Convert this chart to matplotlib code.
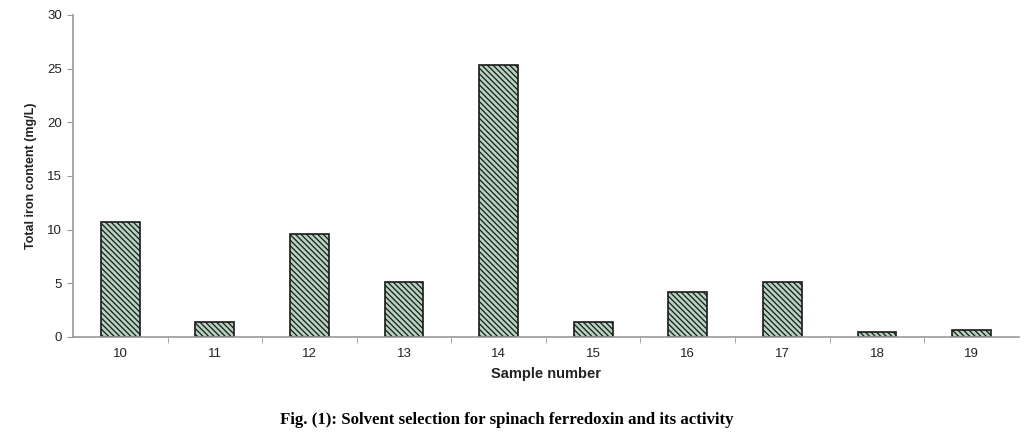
import matplotlib
matplotlib.use("Agg")
import matplotlib.pyplot as plt

samples = ["10", "11", "12", "13", "14", "15", "16", "17", "18", "19"]
iron = [10.7, 1.4, 9.6, 5.1, 25.3, 1.4, 4.2, 5.1, 0.45, 0.65]

plt.rcParams['font.family'] = ['Liberation Sans', 'DejaVu Sans']
plt.rcParams['hatch.linewidth'] = 0.9
plt.rcParams['hatch.color'] = '#2f4a3a'

fig = plt.figure(figsize=(10.27, 4.37), dpi=100)
ax = fig.add_axes([0.071, 0.229, 0.921, 0.737])

x = range(len(samples))
ax.bar(x, iron, width=0.41, color='#b5d3bf', edgecolor='#1a1a1a',
       linewidth=1.2, hatch='\\\\\\\\\\\\')

ax.set_xlim(-0.5, len(samples) - 0.5)
ax.set_ylim(0, 30)
ax.set_yticks([0, 5, 10, 15, 20, 25, 30])
ax.set_xticks(list(x))
ax.set_xticklabels(samples)
# boundary ticks between categories
ax.set_xticks([i + 0.5 for i in range(len(samples) - 1)], minor=True)
ax.tick_params(axis='x', which='major', length=0, pad=8)
ax.tick_params(axis='x', which='minor', length=4, color='#999999')
ax.tick_params(axis='y', length=4, color='#999999', pad=4)
for lab in ax.get_xticklabels() + ax.get_yticklabels():
    lab.set_fontsize(9.5)
    lab.set_color('#222222')

for s in ['top', 'right']:
    ax.spines[s].set_visible(False)
for s in ['left', 'bottom']:
    ax.spines[s].set_color('#999999')
    ax.spines[s].set_linewidth(1.2)

ax.set_xlabel('Sample number', fontsize=10.5, fontweight='bold', color='#222222', labelpad=5)
ax.set_ylabel('Total iron content (mg/L)', fontsize=9, fontweight='bold', color='#222222', labelpad=7)

fig.text(0.493, 0.039, 'Fig. (1): Solvent selection for spinach ferredoxin and its activity',
         ha='center', va='center', fontsize=12.1, fontweight='bold',
         family=['Liberation Serif', 'DejaVu Serif'])

fig.savefig('out.png', dpi=100)
